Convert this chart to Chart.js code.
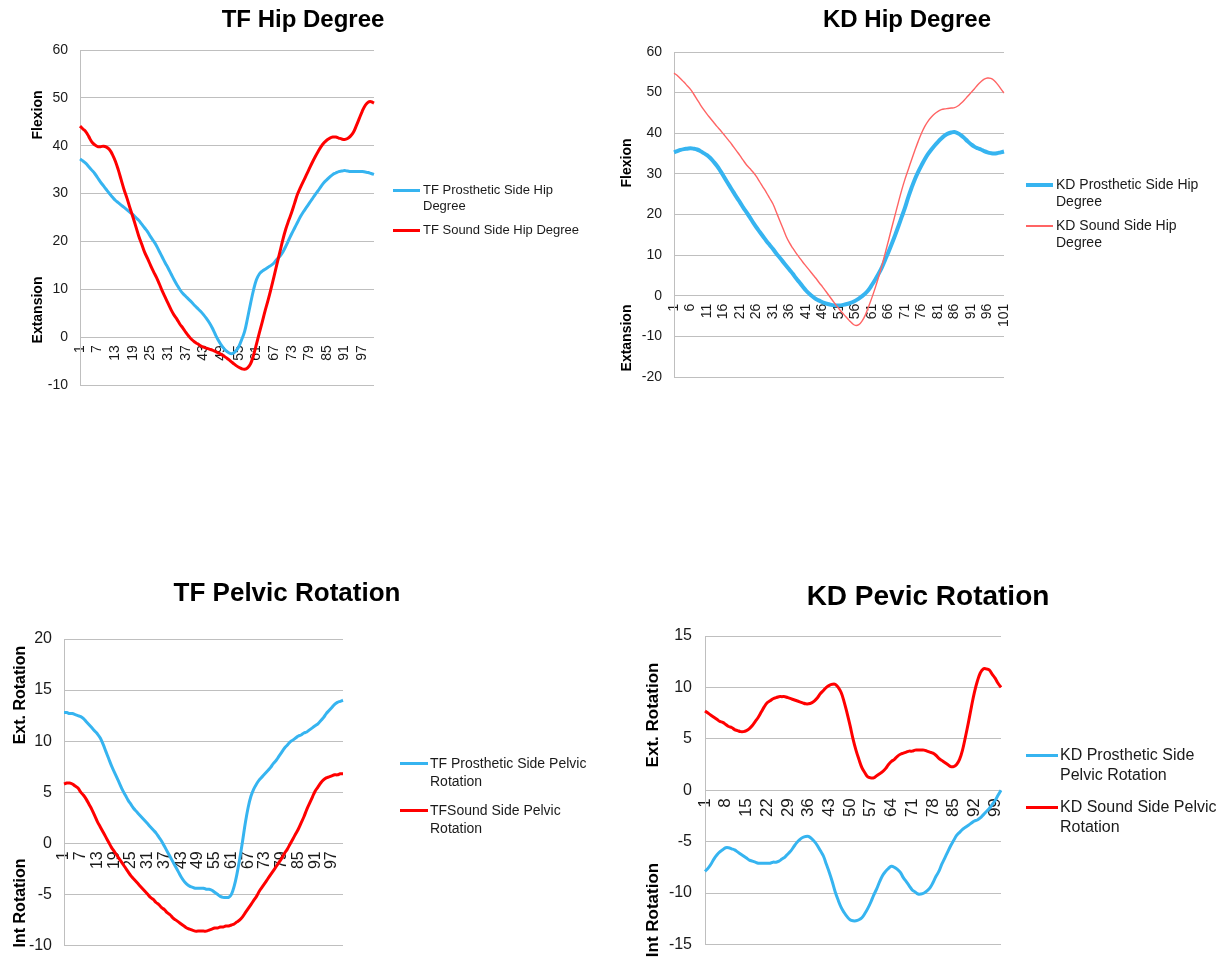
<!DOCTYPE html>
<html><head><meta charset="utf-8">
<script src="https://cdn.jsdelivr.net/npm/chart.js@4.4.0/dist/chart.umd.min.js"></script>
<style>
html,body{margin:0;padding:0;background:#fff;}
#page{position:relative;width:1228px;height:967px;overflow:hidden;background:#fff;}
.box{position:absolute;}
.box canvas{display:block;}
.legend{position:absolute;font-family:Arial,'Liberation Sans',sans-serif;color:#1a1a1a;}
</style></head><body><div id="page">
<div class="box" id="b1" style="left:0px;top:0px"><canvas id="c1" width="606" height="420"></canvas></div>
<div class="box" id="b2" style="left:590px;top:0px"><canvas id="c2" width="638" height="420"></canvas></div>
<div class="box" id="b3" style="left:0px;top:560px"><canvas id="c3" width="574" height="407"></canvas></div>
<div class="box" id="b4" style="left:628px;top:560px"><canvas id="c4" width="600" height="407"></canvas></div>
</div>
<script>
// ---- categories (gait-cycle frames) ----
const frames = [1,2,3,4,5,6,7,8,9,10,11,12,13,14,15,16,17,18,19,20,21,22,23,24,25,26,27,28,29,30,31,32,33,34,35,36,37,38,39,40,41,42,43,44,45,46,47,48,49,50,51,52,53,54,55,56,57,58,59,60,61,62,63,64,65,66,67,68,69,70,71,72,73,74,75,76,77,78,79,80,81,82,83,84,85,86,87,88,89,90,91,92,93,94,95,96,97,98,99,100,101];

// ---- tick labels shown on the category axes ----
const tfTicks = [1,7,13,19,25,31,37,43,49,55,61,67,73,79,85,91,97];
const kdHipTicks = [1,6,11,16,21,26,31,36,41,46,51,56,61,66,71,76,81,86,91,96,101];
const kdPelvicTicks = [1,8,15,22,29,36,43,50,57,64,71,78,85,92,99];

// ---- TF Hip Degree ----
const tfHipProsthetic = [37.2,36.8,36.3,35.6,34.9,34.2,33.3,32.4,31.6,30.8,
 30.0,29.3,28.6,28.1,27.6,27.1,26.6,26.1,25.6,25.0,
 24.4,23.6,22.8,22.0,21.0,20.1,19.1,17.9,16.7,15.5,
 14.4,13.2,12.0,10.9,9.9,9.1,8.5,7.9,7.3,6.6,
 6.0,5.4,4.7,3.9,3.0,1.9,0.6,-0.6,-1.6,-2.4,
 -3.0,-3.4,-3.4,-2.9,-2.0,-0.5,1.2,4.0,7.0,9.8,
 12.0,13.2,13.8,14.2,14.6,15.0,15.5,16.3,16.9,17.8,
 19.0,20.3,21.6,22.8,24.0,25.2,26.2,27.1,28.0,28.9,
 29.8,30.6,31.5,32.3,32.9,33.5,34.0,34.3,34.6,34.7,
 34.8,34.7,34.6,34.6,34.6,34.6,34.6,34.5,34.4,34.2,
 34.0];
const tfHipSound = [44.1,43.5,42.9,41.9,40.8,40.2,39.8,39.8,39.9,39.7,
 39.2,38.2,36.8,35.0,32.9,30.8,29.0,27.0,25.1,23.1,
 21.1,19.4,17.7,16.4,15.0,13.7,12.5,11.1,9.6,8.3,
 7.0,5.7,4.6,3.7,2.7,1.9,1.0,0.2,-0.5,-1.0,
 -1.4,-1.8,-2.1,-2.3,-2.5,-2.7,-3.0,-3.3,-3.6,-4.0,
 -4.4,-4.9,-5.4,-5.9,-6.3,-6.6,-6.7,-6.4,-5.6,-3.8,
 -1.5,0.9,3.2,5.6,7.8,10.2,12.7,15.3,17.8,20.4,
 22.6,24.4,26.1,28.0,29.9,31.3,32.6,33.9,35.2,36.5,
 37.7,38.8,39.8,40.6,41.2,41.6,41.8,41.8,41.6,41.4,
 41.3,41.5,42.0,42.8,44.2,45.7,47.2,48.4,49.1,49.2,
 48.9];

// ---- KD Hip Degree ----
const kdHipProsthetic = [35.3,35.6,35.9,36.1,36.2,36.3,36.2,36.0,35.6,35.1,
 34.6,33.9,33.0,32.0,30.8,29.5,28.1,26.8,25.5,24.2,
 23.0,21.7,20.5,19.3,18.0,16.8,15.7,14.6,13.5,12.5,
 11.5,10.4,9.4,8.4,7.4,6.4,5.4,4.3,3.3,2.3,
 1.3,0.5,-0.2,-0.8,-1.2,-1.6,-1.9,-2.1,-2.3,-2.4,
 -2.4,-2.3,-2.1,-1.9,-1.6,-1.2,-0.7,-0.1,0.6,1.5,
 2.7,4.0,5.4,7.0,8.9,10.8,12.8,14.9,17.1,19.4,
 21.7,24.3,26.6,28.7,30.5,32.1,33.6,34.9,36.0,37.0,
 37.9,38.7,39.4,39.9,40.2,40.3,40.0,39.5,38.8,38.0,
 37.3,36.7,36.3,36.0,35.6,35.3,35.1,35.0,35.1,35.3,
 35.5];
const kdHipSound = [54.8,54.2,53.4,52.6,51.7,50.8,49.6,48.3,47.0,45.8,
 44.7,43.7,42.7,41.7,40.8,39.8,38.8,37.8,36.7,35.6,
 34.5,33.3,32.2,31.3,30.4,29.3,28.0,26.7,25.4,24.0,
 22.6,20.6,18.6,16.6,14.6,13.0,11.7,10.5,9.4,8.3,
 7.3,6.3,5.3,4.3,3.2,2.2,1.1,0.0,-1.1,-2.2,
 -3.2,-4.2,-5.1,-6.0,-6.8,-7.3,-7.1,-6.2,-4.7,-2.6,
 -0.4,2.0,4.6,7.4,10.5,13.6,16.8,19.9,23.0,26.0,
 28.7,31.1,33.5,35.8,38.0,40.0,41.7,43.0,44.0,44.8,
 45.4,45.8,46.0,46.1,46.2,46.3,46.7,47.4,48.2,49.1,
 50.0,50.9,51.9,52.7,53.3,53.6,53.5,53.0,52.1,51.0,
 49.9];

// ---- TF Pelvic Rotation ----
const tfPelvicProsthetic = [12.8,12.8,12.7,12.7,12.6,12.5,12.4,12.2,11.9,11.6,
 11.3,11.0,10.7,10.3,9.7,9.0,8.3,7.6,7.0,6.4,
 5.8,5.2,4.7,4.2,3.8,3.4,3.1,2.8,2.5,2.2,
 1.9,1.6,1.3,1.0,0.6,0.2,-0.3,-0.8,-1.3,-1.8,
 -2.3,-2.8,-3.3,-3.7,-4.0,-4.2,-4.3,-4.4,-4.4,-4.4,
 -4.4,-4.5,-4.5,-4.6,-4.8,-5.0,-5.2,-5.3,-5.3,-5.3,
 -5.0,-4.2,-3.0,-1.5,0.2,2.0,3.5,4.6,5.3,5.8,
 6.2,6.5,6.8,7.1,7.4,7.8,8.1,8.5,8.9,9.3,
 9.6,9.9,10.1,10.3,10.5,10.6,10.8,10.9,11.1,11.3,
 11.5,11.7,12.0,12.3,12.7,13.0,13.3,13.6,13.8,13.9,
 14.0];
const tfPelvicSound = [5.8,5.9,5.9,5.8,5.6,5.4,5.0,4.7,4.3,3.8,
 3.3,2.7,2.1,1.6,1.1,0.6,0.1,-0.4,-0.8,-1.2,
 -1.6,-2.0,-2.4,-2.8,-3.2,-3.5,-3.8,-4.1,-4.4,-4.7,
 -5.0,-5.3,-5.5,-5.8,-6.0,-6.3,-6.5,-6.8,-7.0,-7.3,
 -7.5,-7.7,-7.9,-8.1,-8.3,-8.4,-8.5,-8.6,-8.6,-8.6,
 -8.6,-8.6,-8.5,-8.4,-8.3,-8.3,-8.2,-8.2,-8.1,-8.1,
 -8.0,-7.9,-7.7,-7.5,-7.2,-6.8,-6.4,-6.0,-5.6,-5.2,
 -4.7,-4.3,-3.9,-3.5,-3.1,-2.7,-2.3,-1.9,-1.5,-1.0,
 -0.6,-0.1,0.4,0.9,1.4,2.0,2.6,3.3,3.9,4.5,
 5.1,5.5,5.9,6.2,6.4,6.5,6.6,6.7,6.7,6.8,
 6.8];

// ---- KD Pelvic Rotation ----
const kdPelvicProsthetic = [-7.9,-7.6,-7.2,-6.7,-6.3,-6.0,-5.8,-5.6,-5.6,-5.7,
 -5.8,-6.0,-6.2,-6.4,-6.6,-6.8,-6.9,-7.0,-7.1,-7.1,
 -7.1,-7.1,-7.1,-7.0,-7.0,-6.9,-6.7,-6.5,-6.2,-5.9,
 -5.5,-5.1,-4.8,-4.6,-4.5,-4.5,-4.7,-5.0,-5.4,-5.9,
 -6.4,-7.2,-8.0,-8.9,-9.9,-10.7,-11.4,-11.9,-12.3,-12.6,
 -12.7,-12.7,-12.6,-12.4,-12.0,-11.5,-10.9,-10.2,-9.6,-8.9,
 -8.3,-7.9,-7.6,-7.4,-7.5,-7.7,-8.0,-8.5,-8.9,-9.3,
 -9.7,-9.9,-10.1,-10.1,-10.0,-9.8,-9.5,-9.0,-8.4,-7.9,
 -7.2,-6.6,-6.0,-5.4,-4.9,-4.4,-4.1,-3.8,-3.6,-3.4,
 -3.2,-3.0,-2.9,-2.7,-2.4,-2.1,-1.8,-1.4,-1.0,-0.5,
 0.0];
const kdPelvicSound = [7.7,7.5,7.3,7.1,6.9,6.7,6.6,6.4,6.2,6.1,
 5.9,5.8,5.7,5.7,5.8,6.0,6.3,6.7,7.1,7.6,
 8.1,8.5,8.7,8.9,9.0,9.1,9.1,9.1,9.0,8.9,
 8.8,8.7,8.6,8.5,8.4,8.4,8.5,8.7,9.0,9.4,
 9.7,10.0,10.2,10.3,10.3,10.0,9.5,8.6,7.5,6.3,
 5.0,3.9,3.0,2.2,1.7,1.3,1.2,1.2,1.4,1.6,
 1.8,2.1,2.5,2.8,3.0,3.3,3.5,3.6,3.7,3.8,
 3.8,3.9,3.9,3.9,3.9,3.8,3.7,3.6,3.4,3.1,
 2.9,2.7,2.5,2.3,2.3,2.5,3.0,3.9,5.2,6.6,
 8.1,9.5,10.6,11.4,11.8,11.8,11.7,11.3,10.9,10.4,
 10.0];

const FONT = "Arial, 'Liberation Sans', sans-serif";
const BLUE = '#36b4f0';
const RED = '#ff0000';
const LIGHTRED = '#ff6464';
const GRID = '#bfbfbf';
const INK = '#1a1a1a';

const headings = {
  id: 'headings',
  afterDraw(chart, args, o) {
    const ctx = chart.ctx;
    ctx.save();
    ctx.fillStyle = '#000';
    ctx.textAlign = 'center';
    ctx.textBaseline = 'alphabetic';
    ctx.font = `bold ${o.titleSize}px ${FONT}`;
    ctx.fillText(o.title, o.titleX, o.titleBaseline);
    ctx.font = `bold ${o.sideSize}px ${FONT}`;
    ctx.textBaseline = 'middle';
    for (const s of o.sides) {
      ctx.save();
      ctx.translate(o.sideX, s.y);
      ctx.rotate(-Math.PI / 2);
      ctx.fillText(s.text, 0, 0);
      ctx.restore();
    }
    ctx.restore();
  }
};

function makeChart(boxId, canvasId, cfg) {
  const chart = new Chart(document.getElementById(canvasId), {
    type: 'line',
    data: {
      labels: frames,
      datasets: cfg.series.map(s => ({
        label: s.label, data: s.data, borderColor: s.color, backgroundColor: s.color,
        borderWidth: s.width, pointRadius: 0, tension: 0.4, fill: false, order: s.order
      }))
    },
    options: {
      responsive: false, animation: false, events: [],
      layout: { padding: cfg.pad },
      plugins: {
        legend: { display: false }, tooltip: { enabled: false }, title: { display: false },
        headings: { title: cfg.title, titleSize: cfg.titleSize, titleX: cfg.titleX, titleBaseline: cfg.titleBaseline,
                    sideSize: cfg.sideSize, sideX: cfg.sideX, sides: cfg.sides }
      },
      scales: {
        x: {
          type: 'category', position: { y: 0 }, offset: false,
          grid: { display: false, drawTicks: false }, border: { display: false },
          ticks: {
            autoSkip: false, maxRotation: 90, minRotation: 90, padding: cfg.xPad, color: INK,
            font: { family: FONT, size: cfg.xSize },
            callback(v) { const lab = this.getLabelForValue(v); return cfg.shown.includes(lab) ? String(lab) : ''; }
          }
        },
        y: {
          min: cfg.min, max: cfg.max,
          ticks: { stepSize: cfg.step, padding: cfg.yPad, color: INK, font: { family: FONT, size: cfg.ySize } },
          grid: { color: GRID, drawTicks: false, lineWidth: 1 },
          border: { display: true, color: GRID, width: 1 },
          afterFit(scale) { scale.width = cfg.yWidth; }
        }
      }
    },
    plugins: [headings]
  });

  // HTML legend built from the chart's datasets
  const lg = cfg.legend;
  const wrap = document.createElement('div');
  wrap.className = 'legend';
  wrap.style.left = lg.left + 'px';
  wrap.style.top = lg.top + 'px';
  wrap.style.fontSize = lg.size + 'px';
  wrap.style.lineHeight = lg.lh + 'px';
  chart.data.datasets.forEach((ds, i) => {
    const h = Math.max(ds.borderWidth, 2);
    const row = document.createElement('div');
    row.style.cssText = `display:flex;align-items:flex-start;margin-top:${i ? lg.gap : 0}px`;
    const mark = document.createElement('span');
    mark.style.cssText = `display:block;flex:none;width:${lg.mark}px;height:${h}px;background:${ds.borderColor};margin-top:${(lg.lh - h) / 2}px;margin-right:${lg.space}px`;
    const txt = document.createElement('span');
    txt.style.cssText = `display:block;width:${lg.width}px`;
    txt.textContent = ds.label;
    row.append(mark, txt);
    wrap.append(row);
  });
  document.getElementById(boxId).append(wrap);
  return chart;
}

makeChart('b1', 'c1', {
  title: 'TF Hip Degree', titleSize: 24, titleX: 303, titleBaseline: 27,
  sideSize: 14, sideX: 38, sides: [{ text: 'Flexion', y: 115 }, { text: 'Extansion', y: 310 }],
  pad: { top: 50, bottom: 35, left: 0, right: 232 }, yWidth: 80, yPad: 12, ySize: 14,
  min: -10, max: 60, step: 10, xSize: 14, xPad: 8, shown: tfTicks,
  series: [
    { label: 'TF Prosthetic Side Hip Degree', data: tfHipProsthetic, color: BLUE, width: 3, order: 1 },
    { label: 'TF Sound Side Hip Degree', data: tfHipSound, color: RED, width: 3, order: 0 }
  ],
  legend: { left: 393, top: 182, size: 13, lh: 16, gap: 8, mark: 27, space: 3, width: 165 }
});

makeChart('b2', 'c2', {
  title: 'KD Hip Degree', titleSize: 24, titleX: 317, titleBaseline: 27,
  sideSize: 14, sideX: 37, sides: [{ text: 'Flexion', y: 163 }, { text: 'Extansion', y: 338 }],
  pad: { top: 52, bottom: 43, left: 0, right: 224 }, yWidth: 84, yPad: 12, ySize: 14,
  min: -20, max: 60, step: 10, xSize: 14, xPad: 8, shown: kdHipTicks,
  series: [
    { label: 'KD Prosthetic Side Hip Degree', data: kdHipProsthetic, color: BLUE, width: 4, order: 1 },
    { label: 'KD Sound Side Hip Degree', data: kdHipSound, color: LIGHTRED, width: 1.4, order: 0 }
  ],
  legend: { left: 436, top: 176, size: 14, lh: 17, gap: 7, mark: 27, space: 3, width: 150 }
});

makeChart('b3', 'c3', {
  title: 'TF Pelvic Rotation', titleSize: 26, titleX: 287, titleBaseline: 41,
  sideSize: 16, sideX: 21, sides: [{ text: 'Ext. Rotation', y: 135 }, { text: 'Int Rotation', y: 343 }],
  pad: { top: 79, bottom: 12, left: 0, right: 231 }, yWidth: 64, yPad: 12, ySize: 16,
  min: -10, max: 20, step: 5, xSize: 16, xPad: 8, shown: tfTicks,
  series: [
    { label: 'TF Prosthetic Side Pelvic Rotation', data: tfPelvicProsthetic, color: BLUE, width: 3, order: 1 },
    { label: 'TFSound Side Pelvic Rotation', data: tfPelvicSound, color: RED, width: 3, order: 0 }
  ],
  legend: { left: 400, top: 194, size: 14, lh: 18, gap: 11, mark: 28, space: 2, width: 165 }
});

makeChart('b4', 'c4', {
  title: 'KD Pevic Rotation', titleSize: 28, titleX: 300, titleBaseline: 45,
  sideSize: 17, sideX: 25, sides: [{ text: 'Ext. Rotation', y: 155 }, { text: 'Int Rotation', y: 350 }],
  pad: { top: 76, bottom: 19, left: 0, right: 227 }, yWidth: 77, yPad: 13, ySize: 16,
  min: -15, max: 15, step: 5, xSize: 17, xPad: 8, shown: kdPelvicTicks,
  series: [
    { label: 'KD Prosthetic Side Pelvic Rotation', data: kdPelvicProsthetic, color: BLUE, width: 3, order: 1 },
    { label: 'KD Sound Side Pelvic Rotation', data: kdPelvicSound, color: RED, width: 3, order: 0 }
  ],
  legend: { left: 398, top: 185, size: 16, lh: 20, gap: 12, mark: 32, space: 2, width: 165 }
});
</script>
</body></html>
